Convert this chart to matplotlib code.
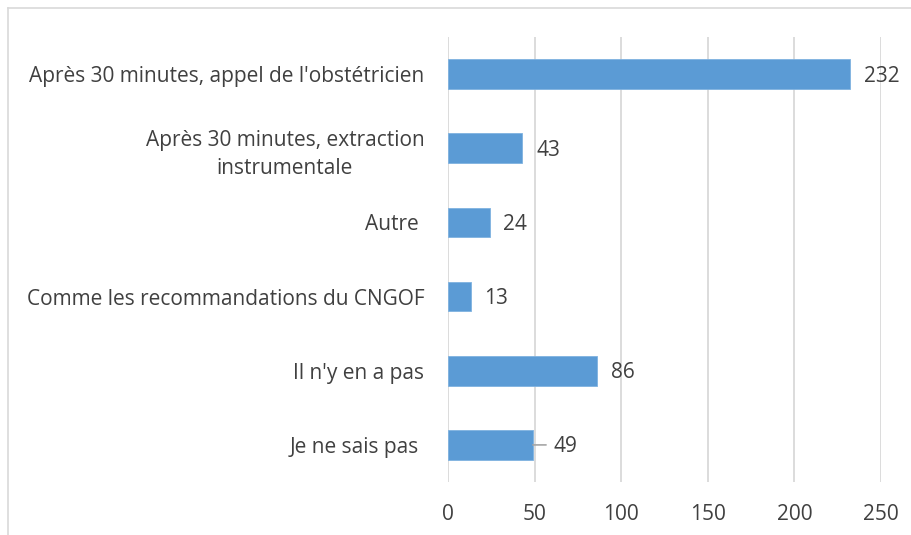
import matplotlib
matplotlib.use('Agg')
import matplotlib.pyplot as plt
from matplotlib.lines import Line2D

# categories top to bottom, as in the chart
categories = ["Après 30 minutes, appel de l'obstétricien",
              "Après 30 minutes, extraction\ninstrumentale",
              "Autre ",
              "Comme les recommandations du CNGOF",
              "Il n'y en a pas",
              "Je ne sais pas "]
values = [232, 43, 24, 13, 86, 49]
x_ticks = [0, 50, 100, 150, 200, 250]

bar_color = '#5B9BD5'
grid_color = '#D9D9D9'
text_color = '#404040'
fs = 15

plt.rcParams['font.family'] = ['Open Sans', 'DejaVu Sans']

fig = plt.figure(figsize=(9.12, 5.35), dpi=100)
ax = fig.add_axes([448 / 912, 1 - 482 / 535, 433 / 912, 445 / 535])

pos = list(range(len(categories)))
ax.barh(pos, values, height=0.4, color=bar_color, edgecolor='#7FB2E0', linewidth=0.6, zorder=3)
ax.set_ylim(len(categories) - 0.5, -0.5)
ax.set_xlim(0, 250)
ax.set_xticks(x_ticks)
ax.set_yticks(pos)
ax.set_yticklabels(categories, multialignment='center', linespacing=1.45)

ax.xaxis.grid(True, color=grid_color, linewidth=1.3, zorder=0)
ax.set_axisbelow(True)
for s in ax.spines.values():
    s.set_visible(False)
ax.tick_params(axis='both', length=0, labelsize=fs, labelcolor=text_color)
ax.tick_params(axis='x', pad=16)
ax.tick_params(axis='y', pad=17)

# data labels ; the last one has a small leader line in the original
for i, v in enumerate(values):
    if i == len(values) - 1:
        ax.annotate('', xy=(v, i), xytext=(9.5, 0), textcoords='offset points',
                    arrowprops=dict(arrowstyle='-', color='#A6A6A6', lw=1.2,
                                    shrinkA=0, shrinkB=0))
        dx = 15
    else:
        dx = 10
    ax.annotate(str(v), xy=(v, i), xytext=(dx, -1.5), textcoords='offset points',
                ha='left', va='center', fontsize=fs, color=text_color)

# light chart frame (only top and left visible in the crop)
fig.add_artist(Line2D([8 / 912, 1], [1 - 8 / 535, 1 - 8 / 535], color=grid_color, lw=1.2))
fig.add_artist(Line2D([8 / 912, 8 / 912], [0, 1 - 8 / 535], color=grid_color, lw=1.2))

fig.savefig('out.png', dpi=100)
